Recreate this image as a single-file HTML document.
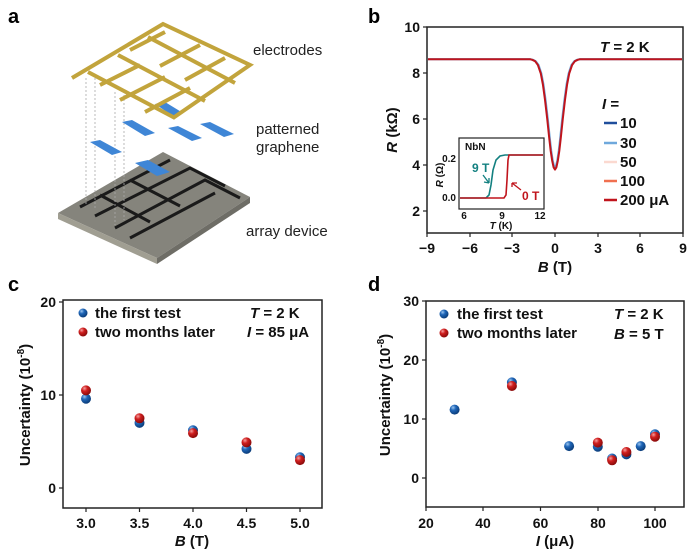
<!DOCTYPE html>
<html><head><meta charset="utf-8"><style>
body{margin:0;background:#fff}
svg{display:block;font-family:"Liberation Sans",Arial,sans-serif}
.t{font-size:14px;font-weight:bold;fill:#111}
.lab{font-size:15px;font-weight:bold;fill:#111}
.pl{font-size:20px;font-weight:bold}
.n{font-size:15px;fill:#222}
</style></head><body>
<svg width="688" height="551" viewBox="0 0 688 551">
<defs>
<radialGradient id="gb" cx="0.35" cy="0.3" r="0.7"><stop offset="0" stop-color="#9cc6f0"/><stop offset="0.4" stop-color="#1f66b8"/><stop offset="1" stop-color="#0b3d7a"/></radialGradient>
<radialGradient id="gr" cx="0.35" cy="0.3" r="0.7"><stop offset="0" stop-color="#f5a0a0"/><stop offset="0.4" stop-color="#d01f1f"/><stop offset="1" stop-color="#8a0b0b"/></radialGradient>
</defs>
<text x="8" y="23" class="pl">a</text>
<text x="368" y="23" class="pl">b</text>
<text x="8" y="291" class="pl">c</text>
<text x="368" y="291" class="pl">d</text>

<!-- panel a -->
<polygon points="58,213 163,152 250,197 157,258" fill="#85847c"/>
<polygon points="58,213 157,258 157,264 58,219" fill="#a09e92"/>
<polygon points="157,258 250,197 250,203 157,264" fill="#6e6d66"/>
<g stroke="#1a1a1a" stroke-width="3" fill="none">
<polyline points="80,207 170,160"/><polyline points="95,216 190,168 225,186"/><polyline points="115,228 205,180 240,198"/>
<polyline points="130,238 215,193"/><polyline points="100,195 150,222"/><polyline points="130,180 180,206"/>
</g>
<g stroke="#aaa" stroke-width="0.8" stroke-dasharray="2,2">
<line x1="86" y1="78" x2="86" y2="205"/><line x1="95" y1="74" x2="95" y2="210"/><line x1="115" y1="92" x2="115" y2="225"/><line x1="124" y1="95" x2="124" y2="220"/>
</g>
<g fill="#3f86d6">
<polygon points="90,142 100,140 122,152 112,155"/><polygon points="122,122 132,120 155,133 145,136"/>
<polygon points="168,128 178,126 202,138 192,141"/><polygon points="200,124 210,122 234,134 224,137"/>
<polygon points="135,163 148,160 170,172 157,176"/><polygon points="155,104 165,102 183,113 173,116"/>
</g>
<g stroke="#c2a43c" stroke-width="4" fill="none" stroke-linejoin="miter">
<polyline points="72,78 163,24 250,65 173,118"/>
<polyline points="88,72 175,118"/><polyline points="118,55 205,101"/><polyline points="148,37 235,83"/>
<polyline points="100,85 140,65"/><polyline points="120,100 165,77"/><polyline points="145,112 190,88"/><polyline points="130,50 165,32"/><polyline points="160,66 200,45"/><polyline points="185,80 225,58"/>
</g>
<text x="253" y="55" class="n">electrodes</text>
<text x="256" y="134" class="n">patterned</text>
<text x="256" y="152" class="n">graphene</text>
<text x="246" y="236" class="n">array device</text>

<!-- panel b -->
<rect x="427" y="27" width="256" height="206" fill="none" stroke="#222" stroke-width="1.5"/>
<g stroke="#222" stroke-width="1.2">
<line x1="427" y1="27" x2="423" y2="27"/><line x1="427" y1="73" x2="423" y2="73"/><line x1="427" y1="119" x2="423" y2="119"/><line x1="427" y1="165" x2="423" y2="165"/><line x1="427" y1="211" x2="423" y2="211"/>
<line x1="427" y1="233" x2="427" y2="237"/><line x1="470" y1="233" x2="470" y2="237"/><line x1="512" y1="233" x2="512" y2="237"/><line x1="555" y1="233" x2="555" y2="237"/><line x1="598" y1="233" x2="598" y2="237"/><line x1="640" y1="233" x2="640" y2="237"/><line x1="683" y1="233" x2="683" y2="237"/>
</g>
<g class="t" text-anchor="end"><text x="420" y="32">10</text><text x="420" y="78">8</text><text x="420" y="124">6</text><text x="420" y="170">4</text><text x="420" y="216">2</text></g>
<g class="t" text-anchor="middle"><text x="427" y="253">−9</text><text x="470" y="253">−6</text><text x="512" y="253">−3</text><text x="555" y="253">0</text><text x="598" y="253">3</text><text x="640" y="253">6</text><text x="683" y="253">9</text></g>
<text x="555" y="272" class="lab" text-anchor="middle"><tspan font-style="italic">B</tspan> (T)</text>
<text transform="translate(397,130) rotate(-90)" class="lab" text-anchor="middle"><tspan font-style="italic">R</tspan> (kΩ)</text>
<polyline fill="none" stroke="#6fa8dc" stroke-width="2.2" stroke-linejoin="round" points="428,59.2 530,59.2 532.7,59.8 535.6,61.2 538.5,65 541.3,73.5 543.4,84.5 545.5,99.9 547.7,118.8 549.8,138.8 551.2,151 552.7,160.8 554.1,166.5 555,168 555.9,166.5 557.3,160.8 558.8,151 560.2,138.8 562.3,118.8 564.5,99.9 566.6,84.5 568.7,73.5 571.5,65 574.4,61.2 577.3,59.8 580,59.2 682,59.2"/>
<polyline fill="none" stroke="#c0141c" stroke-width="2" stroke-linejoin="round" points="428,59.2 530,59.2 532.3,59.8 535.1,61.2 537.9,65 540.8,73.5 542.9,84.5 545,99.9 547.2,118.8 549.3,138.8 550.7,151 552.2,160.8 553.6,167.3 555,169.6 556.4,167.3 557.8,160.8 559.3,151 560.7,138.8 562.8,118.8 565,99.9 567.1,84.5 569.2,73.5 572.1,65 574.9,61.2 577.7,59.8 580,59.2 682,59.2"/>
<text x="600" y="52" class="lab"><tspan font-style="italic">T</tspan> = 2 K</text>
<text x="602" y="109" class="lab"><tspan font-style="italic">I</tspan> =</text>
<g stroke-width="2.5"><line x1="604" y1="123" x2="617" y2="123" stroke="#1f4e9c"/><line x1="604" y1="143" x2="617" y2="143" stroke="#6fa8dc"/><line x1="604" y1="162" x2="617" y2="162" stroke="#fbd9d0"/><line x1="604" y1="181" x2="617" y2="181" stroke="#f07050"/><line x1="604" y1="200" x2="617" y2="200" stroke="#c0141c"/></g>
<g class="lab"><text x="620" y="128">10</text><text x="620" y="148">30</text><text x="620" y="167">50</text><text x="620" y="186">100</text><text x="620" y="205">200 μA</text></g>
<rect x="459" y="138" width="85" height="71" fill="#fff" stroke="#222" stroke-width="1.2"/>
<polyline fill="none" stroke="#138080" stroke-width="1.6" points="460,198 486,198 489,195 491,185 493,170 496,160 500,156 505,155 543,155"/>
<polyline fill="none" stroke="#c0141c" stroke-width="1.6" points="460,198 504,198 506,195 507,180 508,160 509,155 543,155"/>
<g style="font-size:10px;font-weight:bold" fill="#111">
<text x="465" y="150">NbN</text>
<text x="456" y="162" text-anchor="end">0.2</text><text x="456" y="201" text-anchor="end">0.0</text>
<text x="464" y="219" text-anchor="middle">6</text><text x="502" y="219" text-anchor="middle">9</text><text x="540" y="219" text-anchor="middle">12</text>
<text x="501" y="229" text-anchor="middle"><tspan font-style="italic">T</tspan> (K)</text>
<text transform="translate(443,175) rotate(-90)" text-anchor="middle"><tspan font-style="italic">R</tspan> (Ω)</text>
</g>
<text x="472" y="172" style="font-size:12px;font-weight:bold" fill="#138080">9 T</text>
<text x="522" y="200" style="font-size:12px;font-weight:bold" fill="#c0141c">0 T</text>
<path d="M483,175 L489,183 M489,183 l-5,-1 M489,183 l0,-5" stroke="#138080" stroke-width="1.3" fill="none"/>
<path d="M521,190 L512,183 M512,183 l5,0 M512,183 l0,4" stroke="#c0141c" stroke-width="1.3" fill="none"/>

<!-- panel c -->
<rect x="63" y="300" width="259" height="208" fill="none" stroke="#222" stroke-width="1.5"/>
<g stroke="#222" stroke-width="1.2">
<line x1="63" y1="302" x2="59" y2="302"/><line x1="63" y1="395" x2="59" y2="395"/><line x1="63" y1="488" x2="59" y2="488"/>
<line x1="86" y1="508" x2="86" y2="512"/><line x1="139.5" y1="508" x2="139.5" y2="512"/><line x1="193" y1="508" x2="193" y2="512"/><line x1="246.5" y1="508" x2="246.5" y2="512"/><line x1="300" y1="508" x2="300" y2="512"/>
</g>
<g class="t" text-anchor="end"><text x="56" y="307">20</text><text x="56" y="400">10</text><text x="56" y="493">0</text></g>
<g class="t" text-anchor="middle"><text x="86" y="528">3.0</text><text x="139.5" y="528">3.5</text><text x="193" y="528">4.0</text><text x="246.5" y="528">4.5</text><text x="300" y="528">5.0</text></g>
<text x="192" y="546" class="lab" text-anchor="middle"><tspan font-style="italic">B</tspan> (T)</text>
<text transform="translate(30,405) rotate(-90)" class="lab" text-anchor="middle">Uncertainty (10<tspan dy="-6" font-size="10">-8</tspan><tspan dy="6">)</tspan></text>
<circle cx="86" cy="398.7" r="5" fill="url(#gb)"/><circle cx="139.5" cy="422.9" r="5" fill="url(#gb)"/><circle cx="193" cy="430.3" r="5" fill="url(#gb)"/><circle cx="246.5" cy="448.9" r="5" fill="url(#gb)"/><circle cx="300" cy="457.3" r="5" fill="url(#gb)"/>
<circle cx="86" cy="390.4" r="5" fill="url(#gr)"/><circle cx="139.5" cy="418.3" r="5" fill="url(#gr)"/><circle cx="193" cy="433.1" r="5" fill="url(#gr)"/><circle cx="246.5" cy="442.4" r="5" fill="url(#gr)"/><circle cx="300" cy="460.1" r="5" fill="url(#gr)"/>
<circle cx="83" cy="313" r="4.5" fill="url(#gb)"/><circle cx="83" cy="332" r="4.5" fill="url(#gr)"/>
<text x="95" y="318" class="lab">the first test</text>
<text x="95" y="337" class="lab">two months later</text>
<text x="250" y="318" class="lab"><tspan font-style="italic">T</tspan> = 2 K</text>
<text x="247" y="337" class="lab"><tspan font-style="italic">I</tspan> = 85 μA</text>

<!-- panel d -->
<rect x="426" y="301" width="258" height="206" fill="none" stroke="#222" stroke-width="1.5"/>
<g stroke="#222" stroke-width="1.2">
<line x1="426" y1="301" x2="422" y2="301"/><line x1="426" y1="360" x2="422" y2="360"/><line x1="426" y1="419" x2="422" y2="419"/><line x1="426" y1="478" x2="422" y2="478"/>
<line x1="426" y1="507" x2="426" y2="511"/><line x1="483" y1="507" x2="483" y2="511"/><line x1="540.5" y1="507" x2="540.5" y2="511"/><line x1="598" y1="507" x2="598" y2="511"/><line x1="655" y1="507" x2="655" y2="511"/>
</g>
<g class="t" text-anchor="end"><text x="419" y="306">30</text><text x="419" y="365">20</text><text x="419" y="424">10</text><text x="419" y="483">0</text></g>
<g class="t" text-anchor="middle"><text x="426" y="528">20</text><text x="483" y="528">40</text><text x="540.5" y="528">60</text><text x="598" y="528">80</text><text x="655" y="528">100</text></g>
<text x="555" y="546" class="lab" text-anchor="middle"><tspan font-style="italic">I</tspan> (μA)</text>
<text transform="translate(390,395) rotate(-90)" class="lab" text-anchor="middle">Uncertainty (10<tspan dy="-6" font-size="10">-8</tspan><tspan dy="6">)</tspan></text>
<circle cx="454.6" cy="409.6" r="5" fill="url(#gb)"/><circle cx="511.9" cy="382.4" r="5" fill="url(#gb)"/><circle cx="569.1" cy="446.1" r="5" fill="url(#gb)"/><circle cx="597.8" cy="446.7" r="5" fill="url(#gb)"/><circle cx="612.1" cy="458.5" r="5" fill="url(#gb)"/><circle cx="626.4" cy="454.4" r="5" fill="url(#gb)"/><circle cx="640.7" cy="446.1" r="5" fill="url(#gb)"/><circle cx="655" cy="434.3" r="5" fill="url(#gb)"/>
<circle cx="511.9" cy="386" r="5" fill="url(#gr)"/><circle cx="597.8" cy="442.6" r="5" fill="url(#gr)"/><circle cx="612.1" cy="460.3" r="5" fill="url(#gr)"/><circle cx="626.4" cy="452" r="5" fill="url(#gr)"/><circle cx="655" cy="436.7" r="5" fill="url(#gr)"/>
<circle cx="444" cy="314" r="4.5" fill="url(#gb)"/><circle cx="444" cy="333" r="4.5" fill="url(#gr)"/>
<text x="457" y="319" class="lab">the first test</text>
<text x="457" y="338" class="lab">two months later</text>
<text x="614" y="319" class="lab"><tspan font-style="italic">T</tspan> = 2 K</text>
<text x="614" y="339" class="lab"><tspan font-style="italic">B</tspan> = 5 T</text>
</svg>
</body></html>
